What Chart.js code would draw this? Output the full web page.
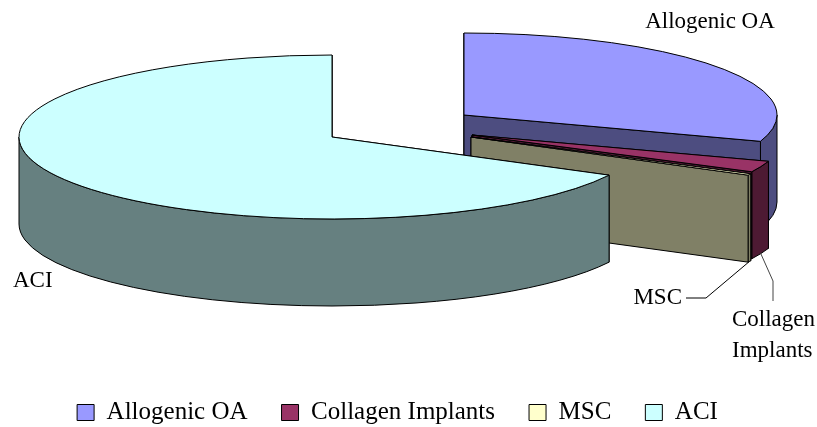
<!DOCTYPE html>
<html>
<head>
<meta charset="utf-8">
<script src="https://cdn.jsdelivr.net/npm/chart.js@4.4.0/dist/chart.umd.min.js"></script>
<style>
  html, body { margin: 0; padding: 0; background: #fff; }
  #wrap { width: 817px; height: 427px; }
</style>
</head>
<body>
<div id="wrap"><canvas id="myChart" width="817" height="427"></canvas></div>
<script>
// 資料
const categories = ["Allogenic OA", "Collagen Implants", "MSC", "ACI"];
const shares = [30.2, 2.2, 0.3, 67.3];

// 樣式（顏色、位置）
const topColors = ["#9999FF", "#993366", "#FFFFCC", "#CCFFFF"];
const sideColors = ["#4D4D80", "#4D1A33", "#808066", "#668080"];
const sliceCenters = [
  { x: 464, y: 115 },
  { x: 472, y: 135 },
  { x: 471, y: 137 },
  { x: 332, y: 137 },
];
const RX = 313;
const RY = 82;
const DEPTH = 87;
const FONT = "'Liberation Serif', 'Times New Roman', serif";

function rimPt(c, a, dz) {
  return [c.x + RX * Math.cos(a), c.y + RY * Math.sin(a) + (dz || 0)];
}

function fillStroke(ctx, fill) {
  ctx.fillStyle = fill;
  ctx.fill();
  ctx.strokeStyle = "#000";
  ctx.lineWidth = 1;
  ctx.stroke();
}

function radialWall(ctx, c, a, color) {
  const p = rimPt(c, a);
  ctx.beginPath();
  ctx.moveTo(c.x, c.y);
  ctx.lineTo(p[0], p[1]);
  ctx.lineTo(p[0], p[1] + DEPTH);
  ctx.lineTo(c.x, c.y + DEPTH);
  ctx.closePath();
  fillStroke(ctx, color);
}

function rimWall(ctx, c, s, e, color) {
  // 只畫前半圈 (0..π)
  [-2 * Math.PI, 0, 2 * Math.PI].forEach((k) => {
    const a0 = Math.max(s, k);
    const a1 = Math.min(e, k + Math.PI);
    if (a1 - a0 <= 0.0001) return;
    ctx.beginPath();
    ctx.ellipse(c.x, c.y, RX, RY, 0, a0, a1);
    ctx.ellipse(c.x, c.y + DEPTH, RX, RY, 0, a1, a0, true);
    ctx.closePath();
    fillStroke(ctx, color);
  });
}

function drawSlice(ctx, s, e, c, top, side) {
  const startVisible = Math.cos(s) < -0.0001;
  const endVisible = Math.cos(e) > 0.0001;
  if (!startVisible) radialWall(ctx, c, s, side);
  if (!endVisible) radialWall(ctx, c, e, side);
  rimWall(ctx, c, s, e, side);
  if (startVisible) radialWall(ctx, c, s, side);
  if (endVisible) radialWall(ctx, c, e, side);
  ctx.beginPath();
  ctx.moveTo(c.x, c.y);
  ctx.ellipse(c.x, c.y, RX, RY, 0, s, e);
  ctx.closePath();
  fillStroke(ctx, top);
}

const pie3d = {
  id: "pie3d",
  beforeDatasetsDraw(chart) {
    const ctx = chart.ctx;
    const arcs = chart.getDatasetMeta(0).data;
    ctx.save();
    ctx.lineJoin = "round";
    arcs.forEach((arc, i) => {
      drawSlice(ctx, arc.startAngle, arc.endAngle, sliceCenters[i], topColors[i], sideColors[i]);
    });
    ctx.restore();
    return false; // 不畫平面圓餅
  },
  afterDraw(chart) {
    const ctx = chart.ctx;
    const arcs = chart.getDatasetMeta(0).data;
    const mid = (i) => (arcs[i].startAngle + arcs[i].endAngle) / 2;
    ctx.save();
    ctx.fillStyle = "#000";
    ctx.font = `23px ${FONT}`;
    ctx.textBaseline = "middle";

    ctx.textAlign = "center";
    ctx.fillText(categories[0], 710, 22);

    ctx.textAlign = "left";
    ctx.fillText(categories[3], 13, 281);

    // MSC 引線
    ctx.textAlign = "right";
    ctx.fillText(categories[2], 682, 298);
    const pm = rimPt(sliceCenters[2], mid(2), DEPTH);
    ctx.strokeStyle = "#000";
    ctx.lineWidth = 1;
    ctx.beginPath();
    ctx.moveTo(686, 298);
    ctx.lineTo(706, 298);
    ctx.lineTo(pm[0], pm[1]);
    ctx.stroke();

    // Collagen Implants 引線
    ctx.textAlign = "left";
    ctx.fillText("Collagen", 732, 320);
    ctx.fillText("Implants", 732, 351);
    const pc = rimPt(sliceCenters[1], mid(1), DEPTH);
    ctx.strokeStyle = "#444";
    ctx.beginPath();
    ctx.moveTo(pc[0], pc[1]);
    ctx.lineTo(773, 281);
    ctx.lineTo(773, 301);
    ctx.stroke();
    ctx.restore();
  },
};

const ctx = document.querySelector("#myChart").getContext("2d");
new Chart(ctx, {
  type: "pie",
  data: {
    labels: categories,
    datasets: [
      {
        data: shares,
        backgroundColor: topColors,
        borderColor: "#000",
        borderWidth: 1,
      },
    ],
  },
  options: {
    responsive: false,
    animation: false,
    layout: { padding: { bottom: -8, right: 22 } },
    plugins: {
      tooltip: { enabled: false },
      legend: {
        display: true,
        position: "bottom",
        labels: {
          boxWidth: 17,
          boxHeight: 16,
          padding: 34,
          color: "#000",
          font: { family: FONT, size: 25 },
        },
      },
    },
  },
  plugins: [pie3d],
});
</script>
</body>
</html>
